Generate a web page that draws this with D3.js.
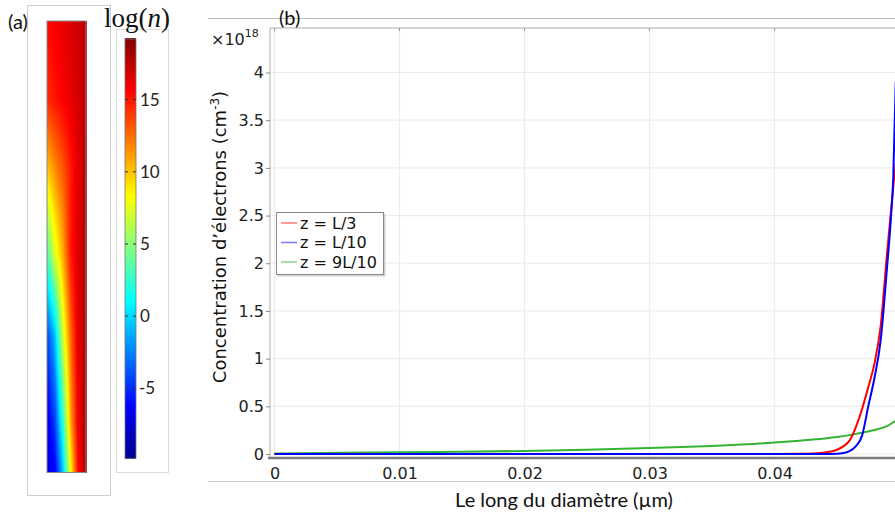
<!DOCTYPE html>
<html><head><meta charset="utf-8">
<script src="https://cdn.jsdelivr.net/npm/d3@7"></script>
<style>body{margin:0;background:#fff}svg{display:block}</style>
</head><body><svg id="c" width="895" height="515"></svg>
<script>
// ---------- data ----------
const xTicks = [0, 0.01, 0.02, 0.03, 0.04];
const yTicks = [0, 0.5, 1, 1.5, 2, 2.5, 3, 3.5, 4];
const seriesNames = ["z = L/3", "z = L/10", "z = 9L/10"];
const seriesColors = ["#ff0000", "#0000ff", "#33b533"];
const legendColors = ["#ff8080", "#8080ff", "#8fd88f"];

// positions in µm, concentrations in 1e18 cm^-3
const xRed  = [0, 0.04, 0.042, 0.043, 0.044, 0.045, 0.0455, 0.046, 0.0465, 0.047, 0.0475, 0.048, 0.0485, 0.049, 0.0495, 0.0497];
const yRed  = [0, 0, 0.002, 0.005, 0.015, 0.045, 0.08, 0.14, 0.28, 0.47, 0.7, 0.95, 1.35, 2.1, 2.8, 3.05];
const xBlue = [0, 0.044, 0.045, 0.0455, 0.046, 0.0465, 0.047, 0.0475, 0.048, 0.0485, 0.049, 0.0493, 0.0495, 0.0497];
const yBlue = [0, 0, 0.003, 0.01, 0.03, 0.08, 0.19, 0.5, 0.8, 1.2, 1.95, 2.45, 2.9, 3.9];
const xGreen = [0, 0.005, 0.01, 0.015, 0.02, 0.025, 0.03, 0.035, 0.04, 0.042, 0.044, 0.045, 0.046, 0.047, 0.048, 0.049, 0.0497];
const yGreen = [0.005, 0.012, 0.018, 0.024, 0.032, 0.045, 0.062, 0.085, 0.12, 0.14, 0.163, 0.178, 0.198, 0.222, 0.252, 0.292, 0.35];

// colour bar (log n)
const cbTicks = [15, 10, 5, 0, -5];
const cbRange = [-9.85, 19.2];

// field of panel (a): log(n) at radial fractions (columns) and axial fractions (rows)
const fieldR = [0, 0.2, 0.4, 0.6, 0.8, 1];
const fieldZ = [0, 0.175, 0.33, 0.514, 0.7, 0.885, 1];
const fieldVals = [
  [15.3, 15.8, 16.2, 16.6, 17.0, 17.4],
  [14.3, 15.0, 15.6, 16.2, 16.8, 17.4],
  [9.8, 11.5, 13.0, 14.8, 16.4, 17.6],
  [3.0, 7.3, 10.5, 14.8, 16.6, 17.6],
  [-4.5, -1.0, 6.5, 12.3, 16.5, 17.6],
  [-7.0, -4.5, 2.0, 10.5, 16.2, 17.6],
  [-7.0, -6.5, -1.0, 8.0, 15.6, 17.8]
];

// ---------- drawing ----------
const svg = d3.select("#c");
const jetT = [0, 0.125, 0.375, 0.625, 0.875, 1];
const jet = d3.scaleLinear()
  .domain(jetT.map(t => cbRange[0] + t * (cbRange[1] - cbRange[0])))
  .range(["#00008f", "#0000ff", "#00ffff", "#ffff00", "#ff0000", "#800000"])
  .clamp(true);

// ---- panel (a) ----
svg.append("rect").attr("x", 27.5).attr("y", 5.5).attr("width", 83).attr("height", 490)
  .attr("fill", "#fff").attr("stroke", "#cfcfcf");
svg.append("text").attr("x", 8).attr("y", 29).attr("font-family", "Lato").attr("font-size", 20)
  .attr("fill", "#111").text("(a)");

const fx = d3.scaleLinear().domain([0, 1]).range([47, 86]);
const fz = d3.scaleLinear().domain([0, 1]).range([21, 472.5]);
function fieldAt(r, z) {
  let j = d3.bisectRight(fieldR, r) - 1; j = Math.max(0, Math.min(fieldR.length - 2, j));
  let i = d3.bisectRight(fieldZ, z) - 1; i = Math.max(0, Math.min(fieldZ.length - 2, i));
  const tr = (r - fieldR[j]) / (fieldR[j + 1] - fieldR[j]);
  const tz = (z - fieldZ[i]) / (fieldZ[i + 1] - fieldZ[i]);
  const a = fieldVals[i][j] * (1 - tr) + fieldVals[i][j + 1] * tr;
  const b = fieldVals[i + 1][j] * (1 - tr) + fieldVals[i + 1][j + 1] * tr;
  return a * (1 - tz) + b * tz;
}
const cells = [];
const nCols = 39, nRows = 226;
for (let c = 0; c < nCols; c++) for (let r = 0; r < nRows; r++) {
  cells.push({ r0: c / nCols, r1: (c + 1) / nCols, z0: r / nRows, z1: (r + 1) / nRows,
    v: fieldAt((c + 0.5) / nCols, (r + 0.5) / nRows) });
}
svg.append("g").attr("shape-rendering", "crispEdges").selectAll("rect").data(cells).join("rect")
  .attr("x", d => fx(d.r0)).attr("y", d => fz(d.z0))
  .attr("width", d => fx(d.r1) - fx(d.r0) + 0.5).attr("height", d => fz(d.z1) - fz(d.z0) + 0.5)
  .attr("fill", d => jet(d.v));
svg.append("rect").attr("x", fx(0)).attr("y", fz(0)).attr("width", fx(1) - fx(0)).attr("height", fz(1) - fz(0))
  .attr("fill", "none").attr("stroke", "#888").attr("stroke-width", 1);

// colour bar
svg.append("rect").attr("x", 116.5).attr("y", 29.5).attr("width", 52).attr("height", 443)
  .attr("fill", "#fff").attr("stroke", "#dcdcdc");
const cbY = d3.scaleLinear().domain(cbRange).range([458.3, 39]);
const cbVals = d3.range(cbRange[0], cbRange[1], (cbRange[1] - cbRange[0]) / 420);
svg.append("g").attr("shape-rendering", "crispEdges").selectAll("rect").data(cbVals).join("rect")
  .attr("x", 125).attr("width", 11)
  .attr("y", d => cbY(d) - 1.2).attr("height", 1.4)
  .attr("fill", d => jet(d));
svg.append("rect").attr("x", 125).attr("y", 39).attr("width", 11).attr("height", 419.3)
  .attr("fill", "none").attr("stroke", "#777").attr("stroke-width", 0.8);
const cbT = svg.append("g");
cbT.selectAll("line.t1").data(cbTicks).join("line")
  .attr("x1", 133).attr("x2", 136).attr("y1", d => cbY(d)).attr("y2", d => cbY(d))
  .attr("stroke", "#333").attr("stroke-width", 1);
cbT.selectAll("line.t2").data(cbTicks).join("line")
  .attr("x1", 125).attr("x2", 128).attr("y1", d => cbY(d)).attr("y2", d => cbY(d))
  .attr("stroke", "#333").attr("stroke-width", 1);
cbT.selectAll("text").data(cbTicks).join("text")
  .attr("x", d => d < 0 ? 139 : 140).attr("y", d => cbY(d)).attr("dy", "0.36em")
  .attr("font-family", "Lato").attr("font-size", 17).attr("fill", "#222")
  .text(d => d < 0 ? "-" + Math.abs(d) : d);
const logT = svg.append("text").attr("x", 104).attr("y", 27)
  .attr("font-family", "Liberation Serif").attr("font-size", 27).attr("fill", "#111");
logT.append("tspan").text("log(");
logT.append("tspan").attr("font-style", "italic").text("n");
logT.append("tspan").text(")");

// ---- panel (b) ----
svg.append("line").attr("x1", 208).attr("x2", 895).attr("y1", 18.5).attr("y2", 18.5).attr("stroke", "#bdbdbd");
svg.append("line").attr("x1", 208).attr("x2", 895).attr("y1", 481.5).attr("y2", 481.5).attr("stroke", "#c8c8c8");

const pLeft = 270, pTop = 28, pBottom = 458, pRight = 900;
const x = d3.scaleLinear().domain([0, 0.05]).range([274.5, 899.5]);
const y = d3.scaleLinear().domain([0, 4]).range([454, 72.5]);

// grid
svg.append("g").selectAll("line").data(yTicks).join("line")
  .attr("x1", pLeft).attr("x2", pRight).attr("y1", d => y(d)).attr("y2", d => y(d))
  .attr("stroke", "#ececec").attr("stroke-width", 1.2);
svg.append("g").selectAll("line").data(xTicks).join("line")
  .attr("x1", d => x(d)).attr("x2", d => x(d)).attr("y1", pTop).attr("y2", pBottom)
  .attr("stroke", "#ececec").attr("stroke-width", 1.2);
// frame
svg.append("line").attr("x1", pLeft).attr("x2", pRight).attr("y1", pTop).attr("y2", pTop).attr("stroke", "#d6d6d6").attr("stroke-width", 2);
svg.append("line").attr("x1", pLeft).attr("x2", pLeft).attr("y1", pTop).attr("y2", pBottom).attr("stroke", "#c8c8c8").attr("stroke-width", 1.5);
svg.append("g").selectAll("line").data(xTicks).join("line")
  .attr("x1", d => x(d)).attr("x2", d => x(d)).attr("y1", pTop).attr("y2", pTop + 3)
  .attr("stroke", "#999");

// curves
const clip = svg.append("clipPath").attr("id", "pc");
clip.append("rect").attr("x", pLeft).attr("y", pTop).attr("width", pRight - pLeft).attr("height", pBottom - pTop);
const series = [
  { name: seriesNames[0], xs: xRed, ys: yRed, color: seriesColors[0] },
  { name: seriesNames[1], xs: xBlue, ys: yBlue, color: seriesColors[1] },
  { name: seriesNames[2], xs: xGreen, ys: yGreen, color: seriesColors[2] }
];
const line = d3.line().x(d => x(d[0])).y(d => y(d[1])).curve(d3.curveMonotoneX);
const gl = svg.append("g").attr("clip-path", "url(#pc)");
[series[2], series[0], series[1]].forEach(s => {
  gl.append("path").attr("d", line(s.xs.map((v, i) => [v, s.ys[i]])))
    .attr("fill", "none").attr("stroke", s.color).attr("stroke-width", 2);
});

// bottom axis line
svg.append("line").attr("x1", 268).attr("x2", pRight).attr("y1", pBottom).attr("y2", pBottom)
  .attr("stroke", "#7a7a7a").attr("stroke-width", 2.5);

// y axis
const ya = svg.append("g").attr("transform", `translate(${pLeft},0)`)
  .call(d3.axisLeft(y).tickValues(yTicks).tickSize(4).tickPadding(2).tickFormat(d3.format("")));
ya.select(".domain").remove();
ya.selectAll(".tick line").attr("stroke", "#888");
ya.selectAll("text").attr("font-family", "DejaVu Sans").attr("font-size", 16).attr("fill", "#222");

// x axis
const xa = svg.append("g").attr("transform", `translate(0,${pBottom})`)
  .call(d3.axisBottom(x).tickValues(xTicks).tickSize(0).tickPadding(10).tickFormat(d3.format("")));
xa.select(".domain").remove();
xa.selectAll("text").attr("font-family", "DejaVu Sans").attr("font-size", 16).attr("fill", "#222");

// multiplier
const mt = svg.append("text").attr("x", 211).attr("y", 45).attr("font-family", "DejaVu Sans")
  .attr("font-size", 16).attr("fill", "#222");
mt.append("tspan").text("×10");
mt.append("tspan").attr("font-size", 11).attr("dy", -8).text("18");

// axis titles
const yt = svg.append("text").attr("transform", "translate(226,237) rotate(-90)")
  .attr("text-anchor", "middle").attr("font-family", "DejaVu Sans").attr("font-size", 18).attr("fill", "#111");
yt.append("tspan").text("Concentration d’électrons (cm");
yt.append("tspan").attr("font-size", 12).attr("dy", -7).text("-3");
yt.append("tspan").attr("dy", 7).text(")");
svg.append("text").attr("x", 564).attr("y", 507).attr("text-anchor", "middle")
  .attr("font-family", "Lato").attr("font-size", 20).attr("fill", "#111")
  .text("Le long du diamètre (µm)");

svg.append("text").attr("x", 279).attr("y", 25).attr("font-family", "Lato").attr("font-size", 20)
  .attr("fill", "#111").text("(b)");

// legend
const lg = svg.append("g").attr("transform", "translate(276,212)");
lg.append("rect").attr("x", 1.5).attr("y", 1.5).attr("width", 108).attr("height", 63).attr("fill", "#d0d0d0");
lg.append("rect").attr("x", 0.5).attr("y", 0.5).attr("width", 107).attr("height", 62)
  .attr("fill", "#fff").attr("stroke", "#8a8a8a");
const items = lg.selectAll("g.it").data(series).join("g").attr("class", "it")
  .attr("transform", (d, i) => `translate(0,${11 + i * 19.5})`);
items.append("line").attr("x1", 5).attr("x2", 21).attr("y1", 0).attr("y2", 0)
  .attr("stroke", (d, i) => legendColors[i]).attr("stroke-width", 1.6);
items.append("text").attr("x", 24).attr("y", 0).attr("dy", "0.36em")
  .attr("font-family", "DejaVu Sans").attr("font-size", 16).attr("fill", "#111").text(d => d.name);
</script></body></html>
